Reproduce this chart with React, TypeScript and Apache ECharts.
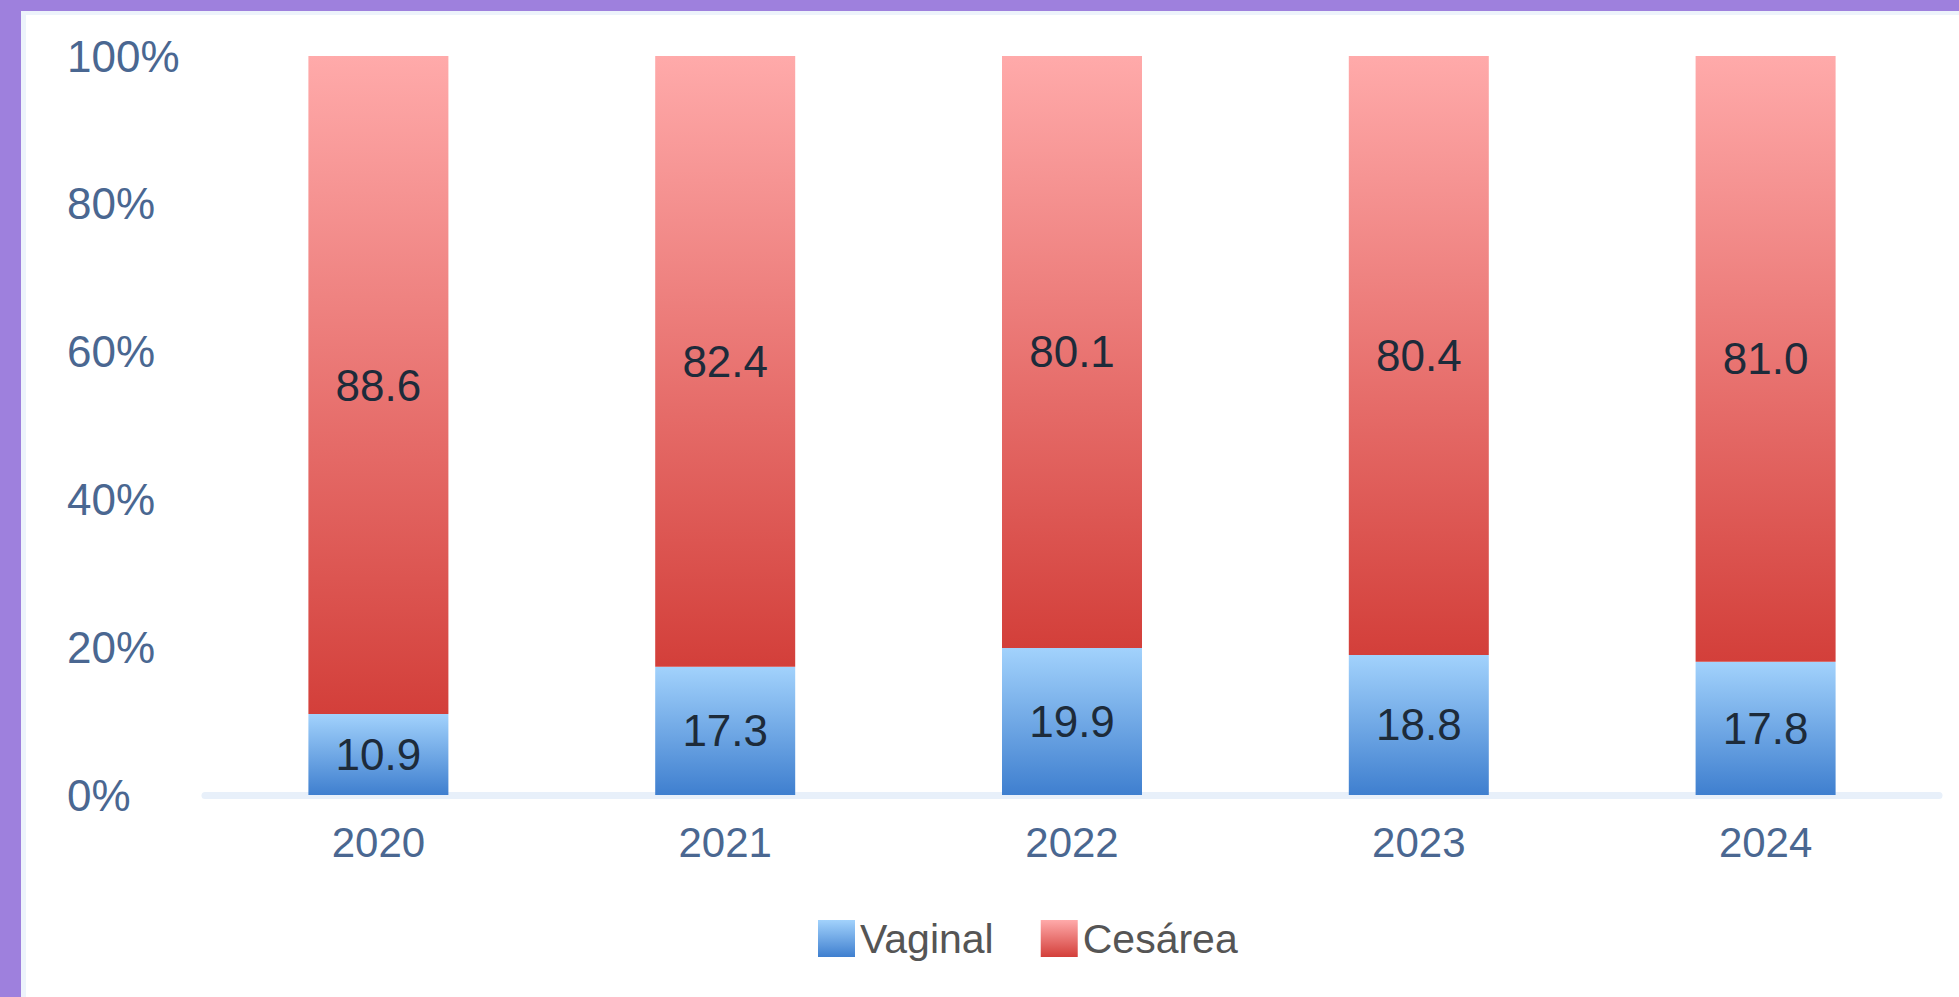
import React, { useEffect, useRef } from "react";
import * as echarts from "echarts";

const years = ["2020", "2021", "2022", "2023", "2024"];
const vaginal = [10.9, 17.3, 19.9, 18.8, 17.8];
const cesarea = [88.6, 82.4, 80.1, 80.4, 81.0];
const yTicks = [0, 20, 40, 60, 80, 100];

const FONT = "'Liberation Sans', Arial, sans-serif";

export default function App() {
  const ref = useRef<HTMLDivElement>(null);
  useEffect(() => {
    if (!ref.current) return;
    const chart = echarts.init(ref.current, null, { renderer: "svg" });
    const totals = years.map((_, i) => vaginal[i] + cesarea[i]);
    const vagPct = vaginal.map((v, i) => (v / totals[i]) * 100);
    const cesPct = cesarea.map((v, i) => (v / totals[i]) * 100);
    const blue = new echarts.graphic.LinearGradient(0, 0, 0, 1, [
      { offset: 0, color: "#a2d2fc" },
      { offset: 1, color: "#3f7fcf" },
    ]);
    const red = new echarts.graphic.LinearGradient(0, 0, 0, 1, [
      { offset: 0, color: "#ffaaaa" },
      { offset: 1, color: "#d33f3a" },
    ]);
    const labelStyle = {
      show: true,
      position: "inside" as const,
      fontSize: 44,
      fontFamily: FONT,
      color: "#1d2b3a",
    };
    chart.setOption({
      animation: false,
      backgroundColor: "#ffffff",
      graphic: [
        { type: "rect", left: 0, top: 0, shape: { width: 1959, height: 11 }, style: { fill: "#9e80dd" }, z: 100 },
        { type: "rect", left: 0, top: 0, shape: { width: 21, height: 997 }, style: { fill: "#9e80dd" }, z: 100 },
        { type: "rect", left: 21, top: 11, shape: { width: 1938, height: 4 }, style: { fill: "#edf3fb" }, z: 99 },
        { type: "rect", left: 21, top: 11, shape: { width: 5, height: 986 }, style: { fill: "#edf3fb" }, z: 99 },
      ],
      grid: { left: 205, right: 20, top: 56, bottom: 202, containLabel: false },
      legend: {
        left: 813,
        top: 913,
        itemWidth: 37,
        itemHeight: 37,
        itemGap: 47,
        icon: "rect",
        textStyle: { fontSize: 41, fontFamily: FONT, color: "#555555", padding: [0, 0, 0, 0] },
        data: ["Vaginal", "Cesárea"],
      },
      xAxis: {
        type: "category",
        data: years,
        axisLine: { show: true, lineStyle: { color: "#e8f0fa", width: 7 } },
        axisTick: { show: false },
        axisLabel: { fontSize: 42, fontFamily: FONT, color: "#4a6791", margin: 26 },
      },
      yAxis: {
        type: "value",
        min: yTicks[0],
        max: yTicks[yTicks.length - 1],
        interval: 20,
        splitLine: { show: false },
        axisLine: { show: false },
        axisTick: { show: false },
        axisLabel: {
          fontSize: 44,
          fontFamily: FONT,
          color: "#4a6791",
          align: "left",
          margin: 138,
          formatter: "{value}%",
        },
      },
      series: [
        {
          name: "Vaginal",
          type: "bar",
          stack: "total",
          barWidth: 140,
          data: vagPct,
          itemStyle: { color: blue },
          label: { ...labelStyle, formatter: (p: any) => vaginal[p.dataIndex].toFixed(1) },
        },
        {
          name: "Cesárea",
          type: "bar",
          stack: "total",
          barWidth: 140,
          data: cesPct,
          itemStyle: { color: red },
          label: { ...labelStyle, formatter: (p: any) => cesarea[p.dataIndex].toFixed(1) },
        },
      ],
    });
    return () => chart.dispose();
  }, []);
  return (
    <div
      ref={ref}
      style={{ position: "absolute", left: 0, top: 0, width: 1959, height: 997 }}
    />
  );
}
